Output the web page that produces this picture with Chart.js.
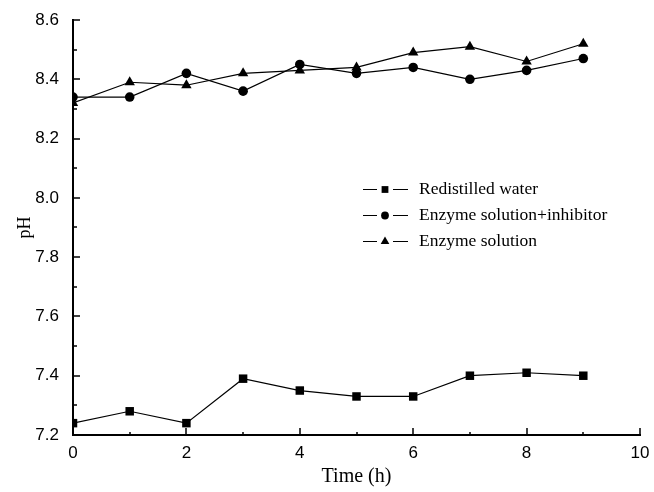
<!DOCTYPE html>
<html>
<head>
<meta charset="utf-8">
<script src="https://cdn.jsdelivr.net/npm/chart.js@4"></script>
<style>
  html, body { margin: 0; padding: 0; background: #fff; }
  #wrap { width: 654px; height: 492px; }
</style>
</head>
<body>
<div id="wrap"><canvas id="chart" width="654" height="492"></canvas></div>
<script>
// time in hours
const hours = [0, 1, 2, 3, 4, 5, 6, 7, 8, 9];
const waterPH = [7.24, 7.28, 7.24, 7.39, 7.35, 7.33, 7.33, 7.40, 7.41, 7.40];
const inhibitorPH = [8.34, 8.34, 8.42, 8.36, 8.45, 8.42, 8.44, 8.40, 8.43, 8.47];
const enzymePH = [8.32, 8.39, 8.38, 8.42, 8.43, 8.44, 8.49, 8.51, 8.46, 8.52];
const seriesLabels = ['Redistilled water', 'Enzyme solution+inhibitor', 'Enzyme solution'];

const serif = '"Liberation Serif", "Times New Roman", serif';
const sans = '"Liberation Sans", Arial, sans-serif';

function toPoints(values) {
  return hours.map((h, i) => ({ x: h, y: values[i] }));
}

function lineSet(label, values, style, radius, legendRadius) {
  return {
    label: label,
    data: toPoints(values),
    borderColor: '#000',
    backgroundColor: '#000',
    borderWidth: 1.2,
    pointStyle: style,
    pointRadius: radius,
    pointBorderWidth: 0,
    legendRadius: legendRadius,
    tension: 0
  };
}

// inward ticks, major and minor
const inwardTicks = {
  id: 'inwardTicks',
  afterDraw(chart) {
    const ctx = chart.ctx;
    const xs = chart.scales.x, ys = chart.scales.y;
    ctx.save();
    ctx.strokeStyle = '#000';
    ctx.lineWidth = 1.5;
    ctx.beginPath();
    for (let v = 0; v <= 10; v += 1) {
      const px = Math.round(xs.getPixelForValue(v));
      const len = v % 2 === 0 ? 7 : 3;
      ctx.moveTo(px, ys.bottom);
      ctx.lineTo(px, ys.bottom - len);
    }
    for (let k = 0; k <= 14; k++) {
      const py = Math.round(ys.getPixelForValue(7.2 + k * 0.1));
      const len = k % 2 === 0 ? 7 : 4;
      ctx.moveTo(xs.left, py);
      ctx.lineTo(xs.left + len, py);
    }
    ctx.stroke();
    ctx.restore();
  }
};

// legend inside the plot area
const innerLegend = {
  id: 'innerLegend',
  afterDraw(chart) {
    const ctx = chart.ctx;
    const rows = [189, 215, 241];
    ctx.save();
    chart.data.datasets.forEach((ds, i) => {
      const y = rows[i];
      ctx.strokeStyle = '#000';
      ctx.lineWidth = 1;
      ctx.beginPath();
      ctx.moveTo(363, y + 0.5);
      ctx.lineTo(377, y + 0.5);
      ctx.moveTo(393, y + 0.5);
      ctx.lineTo(408, y + 0.5);
      ctx.stroke();
      Chart.helpers.drawPoint(ctx, {
        pointStyle: ds.pointStyle,
        radius: ds.legendRadius,
        borderWidth: 0
      }, 385, y + 0.5);
      ctx.fillStyle = '#000';
      ctx.font = '17.5px ' + serif;
      ctx.textBaseline = 'middle';
      ctx.textAlign = 'left';
      ctx.fillText(ds.label, 419, y);
    });
    ctx.restore();
  }
};

new Chart(document.getElementById('chart'), {
  type: 'line',
  data: {
    datasets: [
      lineSet(seriesLabels[0], waterPH, 'rect', 6, 4.8),
      lineSet(seriesLabels[1], inhibitorPH, 'circle', 4.8, 3.9),
      lineSet(seriesLabels[2], enzymePH, 'triangle', 6, 5)
    ]
  },
  options: {
    responsive: false,
    animation: false,
    layout: { padding: { top: 20, right: 14, left: 0, bottom: 0 } },
    plugins: {
      legend: { display: false },
      tooltip: { enabled: false }
    },
    scales: {
      x: {
        type: 'linear',
        min: 0,
        max: 10,
        afterFit(scale) { scale.height = 57; },
        grid: { display: false },
        border: { display: true, color: '#000', width: 2 },
        ticks: {
          stepSize: 2,
          color: '#000',
          padding: 0,
          font: { family: sans, size: 17 }
        },
        title: {
          display: true,
          text: 'Time (h)',
          color: '#000',
          padding: { top: 0, bottom: 3 },
          font: { family: serif, size: 20 }
        }
      },
      y: {
        min: 7.2,
        max: 8.6,
        afterFit(scale) { scale.width = 73; },
        grid: { display: false },
        border: { display: true, color: '#000', width: 2 },
        ticks: {
          stepSize: 0.2,
          color: '#000',
          padding: 6,
          font: { family: sans, size: 17 },
          callback: v => Number(v).toFixed(1)
        },
        title: {
          display: true,
          text: 'pH',
          color: '#000',
          padding: { top: 14, bottom: 0 },
          font: { family: serif, size: 18 }
        }
      }
    }
  },
  plugins: [inwardTicks, innerLegend]
});
</script>
</body>
</html>
